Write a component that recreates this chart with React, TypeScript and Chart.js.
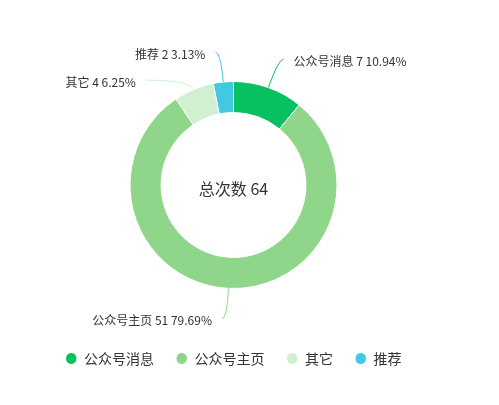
import { useEffect, useRef } from "react";
import { Chart, registerables } from "chart.js";

Chart.register(...registerables);

const categories = ["公众号消息", "公众号主页", "其它", "推荐"];
const counts = [7, 51, 4, 2];
const colors = ["#07c160", "#8fd68b", "#d1f0d1", "#40c9e0"];
const centerTitle = "总次数";

const FONT = '"Noto Sans CJK SC", "Noto Sans", sans-serif';

const labelPlugin = {
  id: "pieOuterLabels",
  afterDatasetsDraw(chart: any) {
    const meta = chart.getDatasetMeta(0);
    const ctx = chart.ctx as CanvasRenderingContext2D;
    const data = chart.data.datasets[0].data as number[];
    const labels = chart.data.labels as string[];
    const bg = chart.data.datasets[0].backgroundColor as string[];
    const total = data.reduce((a, b) => a + b, 0);
    const len1 = 30;
    const len2 = 5;
    const gap = 10;
    const minGap = 28;
    const items = meta.data.map((arc: any, i: number) => {
      const p = arc.getProps(["x", "y", "startAngle", "endAngle", "outerRadius"], true);
      const mid = (p.startAngle + p.endAngle) / 2;
      const cos = Math.cos(mid);
      const sin = Math.sin(mid);
      const p0 = { x: p.x + p.outerRadius * cos, y: p.y + p.outerRadius * sin };
      const R1 = p.outerRadius + len1;
      return { i, cx: p.x, cy: p.y, cos, sin, p0, R1, side: cos >= 0 ? 1 : -1, ly: p.y + R1 * sin };
    });
    [1, -1].forEach((side) => {
      const s = items.filter((it: any) => it.side === side).sort((a: any, b: any) => a.ly - b.ly);
      for (let k = 1; k < s.length; k++) {
        if (s[k].ly < s[k - 1].ly + minGap) s[k].ly = s[k - 1].ly + minGap;
      }
    });
    ctx.save();
    items.forEach((it: any) => {
      const dy = it.ly - it.cy;
      let xc: number;
      if (Math.abs(dy) < it.R1) xc = it.cx + it.side * Math.sqrt(it.R1 * it.R1 - dy * dy);
      else xc = it.p0.x;
      let cxp = it.p0.x;
      if (Math.abs(it.sin) > 0.1) {
        const t = (it.ly - it.p0.y) / it.sin;
        if (t > 0) cxp = it.p0.x + t * it.cos;
      }
      const ex = xc + it.side * len2;
      ctx.beginPath();
      ctx.strokeStyle = bg[it.i];
      ctx.lineWidth = 1;
      ctx.moveTo(it.p0.x, it.p0.y);
      ctx.quadraticCurveTo(cxp, it.ly, ex, it.ly);
      ctx.stroke();
      const v = data[it.i];
      const pct = ((v / total) * 100).toFixed(2);
      ctx.font = `12px ${FONT}`;
      ctx.fillStyle = "#333";
      ctx.textBaseline = "middle";
      ctx.textAlign = it.side > 0 ? "left" : "right";
      ctx.fillText(`${labels[it.i]} ${v} ${pct}%`, ex + it.side * gap, it.ly + 2);
    });
    ctx.restore();
  },
};

const centerPlugin = {
  id: "centerText",
  afterDatasetsDraw(chart: any) {
    const meta = chart.getDatasetMeta(0);
    if (!meta.data.length) return;
    const { x, y } = meta.data[0];
    const data = chart.data.datasets[0].data as number[];
    const total = data.reduce((a, b) => a + b, 0);
    const ctx = chart.ctx as CanvasRenderingContext2D;
    ctx.save();
    ctx.font = `16px ${FONT}`;
    ctx.fillStyle = "#333";
    ctx.textAlign = "center";
    ctx.textBaseline = "middle";
    ctx.fillText(`${centerTitle} ${total}`, x, y + 4);
    ctx.restore();
  },
};

export default function App() {
  const ref = useRef<HTMLCanvasElement>(null);
  useEffect(() => {
    if (!ref.current) return;
    const chart = new Chart(ref.current, {
      type: "doughnut",
      data: {
        labels: categories,
        datasets: [
          {
            data: counts,
            backgroundColor: colors,
            borderColor: "#ffffff",
            borderWidth: 1,
            hoverOffset: 0,
          },
        ],
      },
      options: {
        responsive: false,
        animation: false,
        radius: 103.5,
        cutout: "70%",
        layout: { padding: { left: 0, right: 32, top: 40.5, bottom: 29.5 } },
        plugins: {
          tooltip: { enabled: false },
          legend: {
            position: "bottom",
            labels: {
              usePointStyle: true,
              pointStyle: "circle",
              pointStyleWidth: 11.5,
              boxWidth: 11.5,
              boxHeight: 8.5,
              padding: 22,
              color: "#333",
              font: { size: 14, family: FONT },
            },
          },
        },
      } as any,
      plugins: [labelPlugin, centerPlugin],
    });
    return () => chart.destroy();
  }, []);
  return (
    <div style={{ position: "fixed", left: 0, top: 0, width: 499, height: 405, background: "#fff" }}>
      <canvas ref={ref} width={499} height={405} />
    </div>
  );
}
